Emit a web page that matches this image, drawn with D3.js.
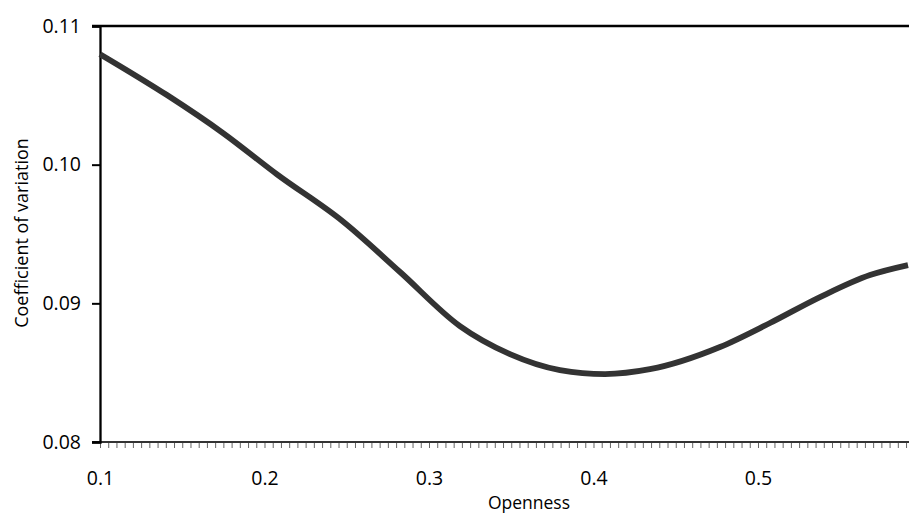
<!DOCTYPE html>
<html>
<head>
<meta charset="utf-8">
<style>
    body { margin: 0px; background: #fff; }
    text { font-family: "Open Sans", sans-serif; fill: #000; }
</style>
</head>
<body>
<svg id="chart"></svg>
<script src="https://d3js.org/d3.v7.min.js"></script>
<script>
var width = 909;
var height = 514;

// values
var openness = [0.100, 0.1407, 0.1748, 0.2076, 0.2477, 0.2824, 0.3188, 0.3492, 0.3796, 0.4070, 0.4343, 0.4769, 0.5073, 0.5377, 0.5681, 0.5912];
var cv = [0.10797, 0.10502, 0.10228, 0.0993, 0.0959, 0.09226, 0.08836, 0.08634, 0.08519, 0.08490, 0.08525, 0.08685, 0.08858, 0.09045, 0.09204, 0.09276];
var xTickLabels = [0.1, 0.2, 0.3, 0.4, 0.5];
var yTickLabels = [0.08, 0.09, 0.10, 0.11];

var svg = d3.select("#chart").attr("width", width).attr("height", height);

var x = d3.scaleLinear().domain([0.1, 0.5918]).range([100, 909]);
var y = d3.scaleLinear().domain([0.08, 0.11]).range([442, 26]);

// minor ticks every 0.005 under the bottom axis
var minor = d3.range(0, 99).map(function(i) { return 0.1 + i * 0.005; });

var gx = svg.append("g").attr("transform", "translate(0," + y(0.08) + ")");
gx.call(d3.axisBottom(x).tickValues(minor).tickSize(6).tickFormat(""));
gx.select(".domain").remove();
gx.selectAll(".tick line").attr("stroke", "#666").attr("stroke-width", 1);

var gxl = svg.append("g").attr("transform", "translate(0," + y(0.08) + ")");
gxl.call(d3.axisBottom(x).tickValues(xTickLabels).tickSize(0).tickPadding(29).tickFormat(d3.format(".1f")));
gxl.select(".domain").remove();
gxl.selectAll("text").style("font-size", "19.5px").style("font-family", "'Open Sans', sans-serif");

// bottom axis line and top border
svg.append("line").attr("x1", 92).attr("x2", width).attr("y1", y(0.08)).attr("y2", y(0.08))
    .attr("stroke", "#333").attr("stroke-width", 2);
svg.append("line").attr("x1", 92).attr("x2", width).attr("y1", y(0.11)).attr("y2", y(0.11))
    .attr("stroke", "#000").attr("stroke-width", 2.5);

var gy = svg.append("g").attr("transform", "translate(" + x(0.1) + ",0)");
gy.call(d3.axisLeft(y).tickValues(yTickLabels).tickSize(8).tickPadding(11).tickFormat(d3.format(".2f")));
gy.select(".domain").attr("stroke", "#000").attr("stroke-width", 2.3);
gy.selectAll(".tick line").attr("stroke", "#000").attr("stroke-width", 2);
gy.selectAll("text").style("font-size", "19.5px").style("font-family", "'Open Sans', sans-serif");

// curve
var line = d3.line()
    .x(function(d, i) { return x(openness[i]); })
    .y(function(d) { return y(d); })
    .curve(d3.curveMonotoneX);

svg.append("path")
    .datum(cv)
    .attr("d", line)
    .attr("fill", "none")
    .attr("stroke", "#333")
    .attr("stroke-width", 5.8);

svg.append("text")
    .attr("x", 529).attr("y", 509)
    .attr("text-anchor", "middle")
    .style("font-size", "17.5px")
    .text("Openness");

svg.append("text")
    .attr("transform", "translate(28,233) rotate(-90)")
    .attr("text-anchor", "middle")
    .style("font-size", "18px")
    .text("Coefficient of variation");
</script>
</body>
</html>
